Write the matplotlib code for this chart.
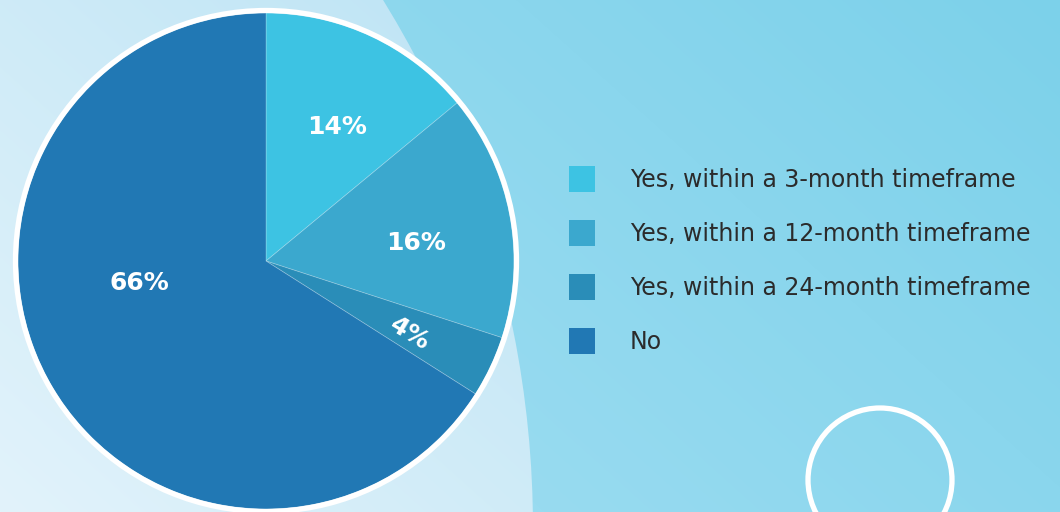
import numpy as np
import matplotlib
matplotlib.use("Agg")
import matplotlib.pyplot as plt
from matplotlib.patches import Circle, Rectangle
from matplotlib.colors import to_rgb

# Survey answers and their shares (%)
categories = [
    "Yes, within a 3-month timeframe",
    "Yes, within a 12-month timeframe",
    "Yes, within a 24-month timeframe",
    "No",
]
shares = [14, 16, 4, 66]
slice_colors = ["#3dc3e3", "#3ba8ce", "#2a8db8", "#2178b4"]

W, H = 1060, 512


def diagonal_gradient(c_dark, c_light, nx=W, ny=H):
    """Gradient running from top-right (dark) to bottom-left (light)."""
    xs = np.linspace(0, 1, nx)
    ys = np.linspace(1, 0, ny)
    xx, yy = np.meshgrid(xs, ys)
    t = (xx * 0.65 + yy * 0.35)
    t = (t - t.min()) / (t.max() - t.min())
    a, b = np.array(to_rgb(c_dark)), np.array(to_rgb(c_light))
    return b[None, None, :] * (1 - t[..., None]) + a[None, None, :] * t[..., None]


fig = plt.figure(figsize=(10.6, 5.12), dpi=100)
ax = fig.add_axes([0, 0, 1, 1])

# background: outer tone plus a large pale disc on the left
ax.imshow(diagonal_gradient("#7cd1ea", "#a6e0f3"), extent=[0, W, 0, H],
          origin="upper", zorder=0, aspect="auto")
inner = ax.imshow(diagonal_gradient("#aadcf1", "#e2f3fb"), extent=[0, W, 0, H],
                  origin="upper", zorder=1, aspect="auto")
disc = Circle((-475, -17), 1008, transform=ax.transData)
inner.set_clip_path(disc)

# decorative ring bottom right
ax.add_patch(Circle((880, 32), 72, facecolor="none", edgecolor="white",
                    linewidth=3.8, zorder=2))

# pie
cx, cy, r = 266, 251, 248
wedges, _, autotexts = ax.pie(
    shares, colors=slice_colors, startangle=90, counterclock=False,
    center=(cx, cy), radius=r, autopct="%d%%", pctdistance=0.62,
    wedgeprops={"edgecolor": (1, 1, 1, 0.25), "linewidth": 0.6},
    textprops={"color": "white", "fontsize": 18, "fontweight": "bold",
               "family": "DejaVu Sans"},
)
for w in wedges:
    w.set_zorder(3)

# label placement: (angle in degrees, fraction of radius)
label_spots = [(62, 0.61), (7, 0.61), (-27, 0.65), (190, 0.52)]
for t, (ang, dist) in zip(autotexts, label_spots):
    t.set_zorder(4)
    t.set_position((cx + dist * r * np.cos(np.radians(ang)),
                    cy + dist * r * np.sin(np.radians(ang))))
autotexts[2].set_rotation(-31)

ax.add_patch(Circle((cx, cy), r + 2.5, facecolor="none", edgecolor="white",
                    linewidth=3.8, zorder=5))

# legend
for i, (lab, col) in enumerate(zip(categories, slice_colors)):
    yc = 333 - i * 54
    ax.add_patch(Rectangle((569, yc - 13), 26, 26, facecolor=col,
                           edgecolor="none", zorder=3))
    ax.text(630, yc - 1, lab, fontsize=17, color="#2b2b2b", va="center",
            ha="left", family="DejaVu Sans", zorder=3)

ax.set_xlim(0, W)
ax.set_ylim(0, H)
ax.set_aspect("auto")
ax.axis("off")

fig.savefig("out.png", dpi=100)
plt.close(fig)
